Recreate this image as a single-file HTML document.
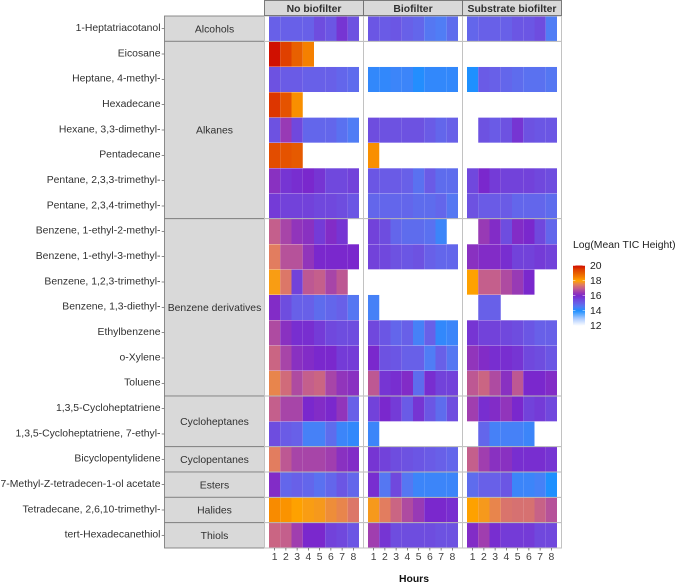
<!DOCTYPE html>
<html lang="en">
<head>
<meta charset="utf-8">
<title>Log(Mean TIC Height) heatmap</title>
<style>
html,body{margin:0;padding:0;background:#fff;width:676px;height:583px;overflow:hidden}
svg{display:block;font-family:"Liberation Sans",Arial,sans-serif}
</style>
</head>
<body>
<svg id="chart" xmlns="http://www.w3.org/2000/svg" width="676" height="583" viewBox="0 0 676 583"></svg>
<script>
const compounds = ["1-Heptatriacotanol","Eicosane","Heptane, 4-methyl-","Hexadecane","Hexane, 3,3-dimethyl-","Pentadecane","Pentane, 2,3,3-trimethyl-","Pentane, 2,3,4-trimethyl-","Benzene, 1-ethyl-2-methyl-","Benzene, 1-ethyl-3-methyl-","Benzene, 1,2,3-trimethyl-","Benzene, 1,3-diethyl-","Ethylbenzene","o-Xylene","Toluene","1,3,5-Cycloheptatriene","1,3,5-Cycloheptatriene, 7-ethyl-","Bicyclopentylidene","7-Methyl-Z-tetradecen-1-ol acetate","Tetradecane, 2,6,10-trimethyl-","tert-Hexadecanethiol"];
const groupNames = ["Alcohols","Alkanes","Benzene derivatives","Cycloheptanes","Cyclopentanes","Esters","Halides","Thiols"];
const groupCounts = [1,7,7,2,1,1,1,1];
const facetNames = ["No biofilter","Biofilter","Substrate biofilter"];
const hours = [1,2,3,4,5,6,7,8];
const legendTicks = [20,18,16,14,12];
const N = null;
const noBiofilter = [
[15.0,15.0,15.0,15.0,15.4,15.2,15.8,15.3],
[20,19.5,19.0,18.5,N,N,N,N],
[15.3,15.1,15.1,15,15,15,14.9,14.8],
[19.6,19.2,18.3,N,N,N,N,N],
[15.3,16.4,15.5,14.9,14.9,14.9,14.7,14.5],
[19.3,19.2,19.1,N,N,N,N,N],
[16.2,15.8,15.9,16,15.8,15.5,15.5,15.6],
[15.7,15.6,15.6,15.6,15.5,15.5,15.4,15.2],
[17,16.6,16.3,16.2,15.7,16.1,15.8,N],
[17.5,16.8,16.8,16.3,16,16,16,16],
[17.9,17.4,15.6,16.9,17,16.6,16.9,N],
[16.1,15.4,15,15,14.8,14.9,15,14.6],
[16.7,16.2,15.9,15.9,15.7,15.5,15.4,15.4],
[17.1,16.6,16.2,16.1,16,16,15.7,15.7],
[17.6,17.2,16.7,17,17.1,16.6,16.3,16.2],
[17,16.6,16.6,16,16.1,16,16.3,15],
[15.4,15.1,15,14.4,14.4,14.8,14.3,14.2],
[17.5,16.9,16.6,16.6,16.6,16.5,16.2,16.1],
[16.1,14.9,15,14.9,14.7,14.9,15.2,14.9],
[18.35,18.25,18.05,17.9,17.85,17.7,17.6,17.4],
[17.1,17,16.5,16,16,15.6,15.5,15.2]
];
const biofilter = [
[15.2,15.1,15.2,15,14.9,14.6,14.5,14.8],
[N,N,N,N,N,N,N,N],
[14.2,14.2,14.3,14.3,14.05,14.2,14.2,14.2],
[N,N,N,N,N,N,N,N],
[15.4,15.3,15.3,15.3,15.3,15.1,14.9,15],
[18.3,N,N,N,N,N,N,N],
[15.2,15.1,15.1,15,14.7,15.1,14.8,14.8],
[14.9,14.9,14.9,14.9,14.8,14.8,14.9,14.6],
[15.6,15.4,14.9,14.8,14.8,14.7,14.3,N],
[15.6,15.5,15.3,15.2,15.3,15,14.9,14.9],
[N,N,N,N,N,N,N,N],
[14.4,N,N,N,N,N,N,N],
[15.5,15.2,14.9,15,14.4,15,14.2,14.3],
[16,15.3,15.2,15,15,14.5,15,14.6],
[16.9,15.8,15.9,16.1,14.8,15.9,15.6,15.6],
[15.6,16,15.7,15.1,15.8,15.2,14.8,15.4],
[14.3,N,N,N,N,N,N,N],
[15.8,15.6,15.4,15.3,15.2,15.1,15,14.9],
[15.9,14.6,15.5,14.6,14.3,14.3,14.3,14.3],
[17.85,17.5,17.1,16.7,16.4,16,16,15.9],
[16.5,15.8,15.4,15.4,15.4,15.4,15.3,15.3]
];
const substrateBiofilter = [
[14.9,15,15,15,15.2,15.2,15.4,14.5],
[N,N,N,N,N,N,N,N],
[14.0,15.1,15,14.9,14.8,14.7,14.7,14.6],
[N,N,N,N,N,N,N,N],
[N,15.3,15.1,15.3,15.8,15.3,15.2,15.2],
[N,N,N,N,N,N,N,N],
[15.5,16,15.7,15.6,15.6,15.6,15.5,15.4],
[15.3,15.1,15.1,15.1,14.9,14.9,14.9,14.8],
[N,16.4,16.1,15.4,16.1,16,15.5,14.9],
[16.2,16.1,16.1,15.9,15.6,15.6,15.7,15.6],
[18.05,17,17,16.7,16.4,16,N,N],
[N,15,15,N,N,N,N,N],
[15.8,15.6,15.6,15.5,15.4,15.2,15,15],
[16.3,16.1,15.9,15.9,15.8,15.5,15.4,15.2],
[16.9,17.1,16.7,16.2,16.9,16,16,16.1],
[16.5,15.9,16.1,16.3,16,15.6,15.7,15.5],
[N,14.9,14.4,14.4,14.4,14.3,N,N],
[17,16.5,16.2,16.2,15.9,15.9,15.9,15.8],
[14.8,15,15,15.2,14.3,14.3,14.4,14.0],
[18.05,17.85,17.6,17.35,17.3,17.3,17.05,16.8],
[16.1,16.5,15.9,15.7,15.7,15.7,15.5,15.5]
];
const facetValues = [noBiofilter, biofilter, substrateBiofilter];

const NS = "http://www.w3.org/2000/svg";
const svg = document.getElementById("chart");
function mk(tag, attrs, text){
  const el = document.createElementNS(NS, tag);
  for (const k in attrs) el.setAttribute(k, attrs[k]);
  if (text !== undefined) el.textContent = text;
  svg.appendChild(el);
  return el;
}

/* axis functions */
const plotTop = 16, rowH = 25.333;
const panelLeft = 265, panelStep = 99, panelW = 97, cellPad = 4, cellW = 11.25;
function rowY(i){ return plotTop + i * rowH; }
function panelX(f){ return panelLeft + f * panelStep; }
function hourX(f, h){ return panelX(f) + cellPad + (h - 1) * cellW; }
const legX = 573, legW = 12, legTop = 265.5, legBottom = 325.5;
function legY(v){ return legBottom - (v - 12) / 8 * (legBottom - legTop); }

/* colour scale */
const stopV = [12,13,14,14.5,15,15.5,16,16.5,17,17.5,18,18.5,19,19.5,20];
const stopC = [[255,255,255],[165,200,255],[30,144,255],[80,125,245],[104,96,232],[112,72,221],[122,40,205],[160,62,175],[196,95,140],[226,125,95],[255,165,0],[245,128,0],[232,96,0],[224,64,0],[208,16,0]];
function colour(v){
  let i = 0;
  while (i < stopV.length - 2 && v > stopV[i + 1]) i++;
  const t = Math.max(0, Math.min(1, (v - stopV[i]) / (stopV[i + 1] - stopV[i])));
  const c = stopC[i].map((a, k) => Math.round(a + (stopC[i + 1][k] - a) * t));
  return "rgb(" + c.join(",") + ")";
}

/* row labels and ticks */
compounds.forEach((name, i) => {
  const cy = rowY(i) + rowH / 2;
  const t = mk("text", {x: 160.5, y: cy + 2.4, "text-anchor": "end", "font-size": "10.4", fill: "#303030"}, name);
  
  
  const tk = mk("line", {x1: 161.7, x2: 164.5, y1: cy, y2: cy, stroke: "#555", "stroke-width": 0.7});
  
  
});

/* left strips */
let start = 0;
groupNames.forEach((name, g) => {
  const y0 = rowY(start), y1 = rowY(start + groupCounts[g]);
  const r = mk("rect", {x: 164.5, y: y0, width: 100, height: y1 - y0, fill: "#d9d9d9", stroke: "#808080", "stroke-width": 0.9});
  
  
  const t = mk("text", {x: 214.5, y: (y0 + y1) / 2 + 3.6, "text-anchor": "middle", "font-size": "10.4", fill: "#303030"}, name);
  
  
  start += groupCounts[g];
});

/* heat cells */
facetValues.forEach((rows, f) => {
  rows.forEach((vals, i) => {
    vals.forEach((v, h) => {
      if (v === null) return;
      const r = mk("rect", {x: hourX(f, hours[h]), y: rowY(i) + 0.3, width: cellW, height: rowH - 0.3, fill: colour(v)});
      
      
    });
  });
});

/* panel grid lines */
start = 0;
groupCounts.forEach((c) => {
  start += c;
  if (start >= compounds.length) return;
  const l = mk("line", {x1: 265, x2: 561.5, y1: rowY(start), y2: rowY(start), stroke: "#b8b8b8", "stroke-width": 1});
  
  
});
facetNames.forEach((name, f) => {
  const x0 = panelX(f) - 0.5, w = panelStep;
  const b = mk("rect", {x: x0, y: plotTop, width: w, height: rowY(compounds.length) - plotTop, fill: "none", stroke: "#c2c2c2", "stroke-width": 1});
  
  
  const s = mk("rect", {x: x0, y: 0.5, width: w, height: 15, fill: "#d9d9d9", stroke: "#6e6e6e", "stroke-width": 0.9});
  
  
  const t = mk("text", {x: x0 + w / 2, y: 12, "text-anchor": "middle", "font-size": "10.4", "font-weight": "bold", fill: "#303030"}, name);
  
  
  hours.forEach((h) => {
    const cx = hourX(f, h) + cellW / 2;
    const tk = mk("line", {x1: cx, x2: cx, y1: 548, y2: 550.5, stroke: "#555", "stroke-width": 0.7});
    
    
    const lb = mk("text", {x: cx, y: 560, "text-anchor": "middle", "font-size": "10.4", fill: "#404040"}, String(h));
    
    
  });
});

/* axis title */
const xTitle = mk("text", {x: 414, y: 582, "text-anchor": "middle", "font-size": "10.4", "font-weight": "bold", fill: "#111"}, "Hours");



/* legend */
const legTitle = mk("text", {x: 573, y: 248, "font-size": "10.4", fill: "#222"}, "Log(Mean TIC Height)");


for (let v = 12; v < 20; v += 0.1) {
  const r = mk("rect", {x: legX, y: legY(v + 0.1), width: legW, height: legY(v) - legY(v + 0.1) + 0.3, fill: colour(v + 0.05)});
  
  
}
legendTicks.forEach((v) => {
  const y = legY(v);
  const a = mk("line", {x1: legX, x2: legX + 2.4, y1: y, y2: y, stroke: "#fff", "stroke-width": 0.5});
  
  
  const b = mk("line", {x1: legX + legW - 2.4, x2: legX + legW, y1: y, y2: y, stroke: "#fff", "stroke-width": 0.5});
  
  
  const t = mk("text", {x: 590, y: y + 3.7, "font-size": "10.4", fill: "#222"}, String(v));
  
  
});
</script>
</body>
</html>
